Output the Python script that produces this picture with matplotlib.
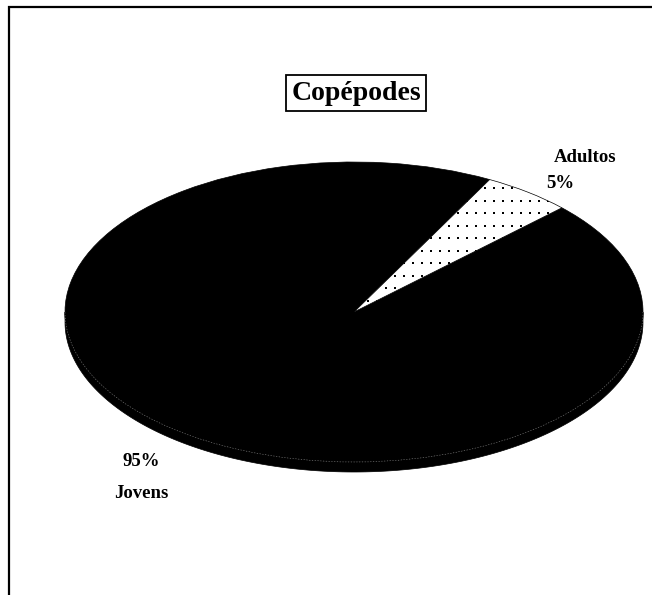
import numpy as np
import matplotlib.pyplot as plt
from matplotlib.patches import Wedge, Polygon, Arc
from matplotlib.transforms import Affine2D

# Copépodes: proporção de jovens e adultos
categorias = ['Jovens', 'Adultos']
valores = [95, 5]
rotulos_pct = ['95%', '5%']

plt.rcParams['font.family'] = ['Liberation Serif', 'DejaVu Serif']

fig = plt.figure(figsize=(6.52, 5.95), dpi=100)
ax = fig.add_axes([0, 0, 1, 1])
ax.set_xlim(0, 652)
ax.set_ylim(595, 0)
ax.axis('off')

# geometria da pizza em perspectiva (pixels)
cx, cy = 354, 312
a, b = 289, 150
espessura = 10
inicio_adultos = 44.0

# ângulos de cada fatia a partir dos valores
total = float(sum(valores))
angulos = [v / total * 360.0 for v in valores]
theta_adultos = (inicio_adultos, inicio_adultos + angulos[1])
theta_jovens = (theta_adultos[1], theta_adultos[1] + angulos[0])

elipse = Affine2D().scale(a, -b).translate(cx, cy) + ax.transData

# lateral (metade de baixo do disco)
t = np.radians(np.linspace(180, 360, 200))
topo = np.column_stack([cx + a * np.cos(t), cy - b * np.sin(t)])
base = topo[::-1] + [0, espessura]
ax.add_patch(Polygon(np.vstack([topo, base]), closed=True,
                     facecolor='black', edgecolor='black', lw=0.5))

# face superior
ax.add_patch(Wedge((0, 0), 1, *theta_jovens, facecolor='black',
                   edgecolor='black', lw=0.5, transform=elipse))
fatia = Wedge((0, 0), 1, *theta_adultos, facecolor='white',
              edgecolor='black', lw=0.5, transform=elipse)
ax.add_patch(fatia)

# textura pontilhada da fatia dos adultos
gx, gy = np.meshgrid(np.arange(cx - 4, cx + a, 9.0),
                     np.arange(cy - b + 1, cy, 12.5))
pontos = ax.scatter(gx.ravel(), gy.ravel(), s=3.6, marker='s',
                    color='black', linewidths=0)
pontos.set_clip_path(fatia)

# aresta clara entre a face e a lateral
ax.add_patch(Arc((cx, cy), 2 * a, 2 * b, theta1=0, theta2=180,
                 color='#8a8a8a', lw=0.4, ls=(0, (2, 3))))

# rótulos
fonte = dict(fontsize=13.5, fontweight='bold', color='black')
ax.text(585, 157, categorias[1], ha='center', va='center', **fonte)
ax.text(546, 183, rotulos_pct[1], ha='left', va='center', **fonte)
ax.text(141, 461, rotulos_pct[0], ha='center', va='center', **fonte)
ax.text(141, 494, categorias[0], ha='center', va='center', **fonte)

# título
ax.text(356, 93, 'Copépodes', ha='center', va='center', fontsize=20,
        fontweight='bold',
        bbox=dict(boxstyle='square,pad=0.2', facecolor='white',
                  edgecolor='black', lw=1.3))

# moldura (esquerda e topo)
ax.plot([9, 9, 652], [595, 7, 7], color='black', lw=1.6,
        solid_capstyle='butt', solid_joinstyle='miter')

fig.savefig('out.png', dpi=100)
